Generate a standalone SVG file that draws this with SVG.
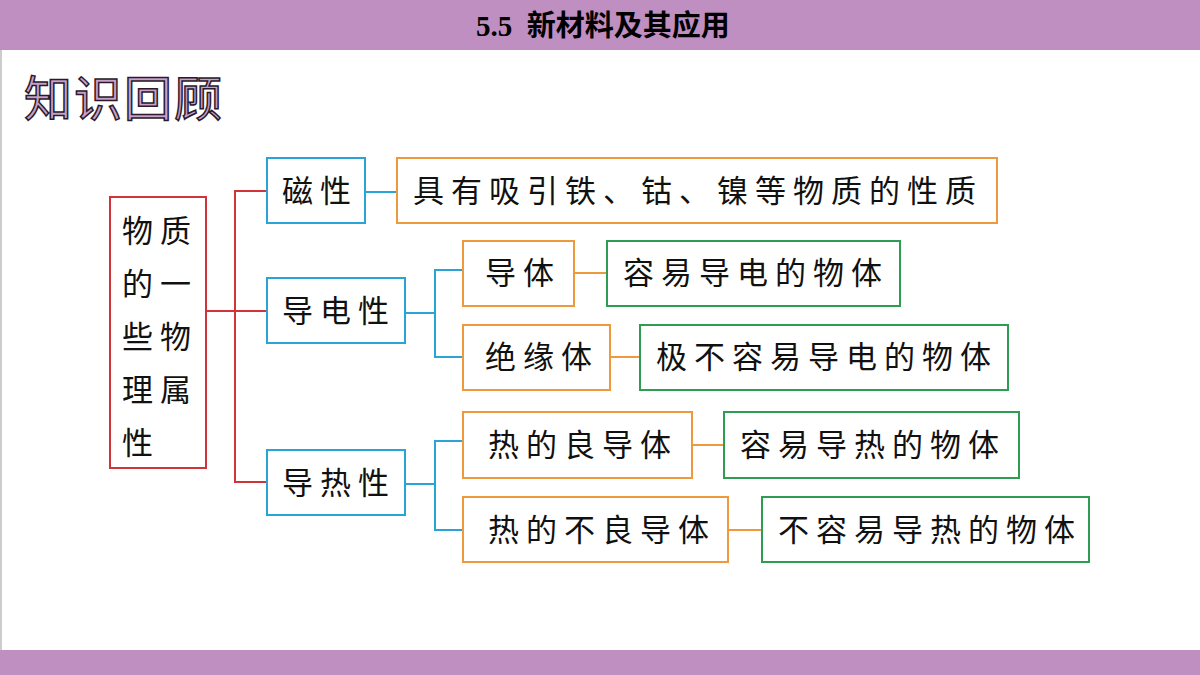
<svg xmlns="http://www.w3.org/2000/svg" width="1200" height="675" viewBox="0 0 1200 675">
<style>
.t{font-family:"Noto Sans CJK SC","Noto Sans",sans-serif;font-size:31px;fill:#111;letter-spacing:7px}
.r{fill:#fff;stroke-width:2}
.red{stroke:#D0343A}.blue{stroke:#2AA3D6}.org{stroke:#EE9A3C}.grn{stroke:#2E9C53}
</style>
<rect width="1200" height="675" fill="#fff"/>
<rect x="0" y="0" width="1200" height="50" fill="#BF8FC2"/>
<rect x="0" y="650" width="1200" height="25" fill="#BF8FC2"/>
<line x1="1" y1="50" x2="1" y2="650" stroke="#ccc" stroke-width="2"/>
<text x="603" y="36" text-anchor="middle" xml:space="preserve" font-family="'Liberation Serif','Noto Sans CJK SC',serif" font-size="29" font-weight="bold">5.5  新材料及其应用</text>
<text x="24" y="116" font-family="'Noto Sans CJK SC',sans-serif" font-size="48" fill="#C9A0CC" stroke="#2a1a2a" stroke-width="1.5" letter-spacing="2">知识回顾</text>
<g id="conn" fill="none" stroke-width="2">
<polyline class="red" points="206,311 235,311"/>
<polyline class="red" points="267,191 235,191 235,482 267,482"/>
<polyline class="red" points="235,311 267,311"/>
<polyline class="blue" points="365,192 397,192"/>
<polyline class="blue" points="405,313 435,313"/>
<polyline class="blue" points="463,270 435,270 435,357 463,357"/>
<polyline class="blue" points="405,484 435,484"/>
<polyline class="blue" points="463,441 435,441 435,530 463,530"/>
<polyline class="org" points="574,273 607,273"/>
<polyline class="org" points="610,357 640,357"/>
<polyline class="org" points="692,445 724,445"/>
<polyline class="org" points="728,530 762,530"/>
</g>
<g id="root"><rect class="r red" x="110" y="197" width="96" height="271"/>
<text class="t" x="122" y="242">物质</text><text class="t" x="122" y="295">的一</text><text class="t" x="122" y="348">些物</text><text class="t" x="122" y="401">理属</text><text class="t" x="122" y="454">性</text></g>
<g id="cixing"><rect class="r blue" x="267" y="158" width="98" height="65"/><text class="t" x="282" y="202">磁性</text></g>
<g id="daodian"><rect class="r blue" x="267" y="278" width="138" height="65"/><text class="t" x="282" y="322">导电性</text></g>
<g id="daore"><rect class="r blue" x="267" y="450" width="138" height="65"/><text class="t" x="282" y="494">导热性</text></g>
<g id="cixing-d"><rect class="r org" x="397" y="158" width="600" height="65"/><text class="t" x="413" y="202">具有吸引铁、钴、镍等物质的性质</text></g>
<g id="daoti"><rect class="r org" x="463" y="241" width="111" height="65"/><text class="t" x="485" y="284">导体</text></g>
<g id="daoti-d"><rect class="r grn" x="607" y="241" width="293" height="65"/><text class="t" x="623" y="284">容易导电的物体</text></g>
<g id="jueyuan"><rect class="r org" x="463" y="325" width="147" height="65"/><text class="t" x="485" y="368">绝缘体</text></g>
<g id="jueyuan-d"><rect class="r grn" x="640" y="325" width="368" height="65"/><text class="t" x="656" y="368">极不容易导电的物体</text></g>
<g id="liang"><rect class="r org" x="463" y="412" width="229" height="66"/><text class="t" x="488" y="456">热的良导体</text></g>
<g id="liang-d"><rect class="r grn" x="724" y="412" width="295" height="66"/><text class="t" x="740" y="456">容易导热的物体</text></g>
<g id="buliang"><rect class="r org" x="463" y="497" width="265" height="65"/><text class="t" x="488" y="541">热的不良导体</text></g>
<g id="buliang-d"><rect class="r grn" x="762" y="497" width="327" height="65"/><text class="t" x="778" y="541">不容易导热的物体</text></g>
</svg>
